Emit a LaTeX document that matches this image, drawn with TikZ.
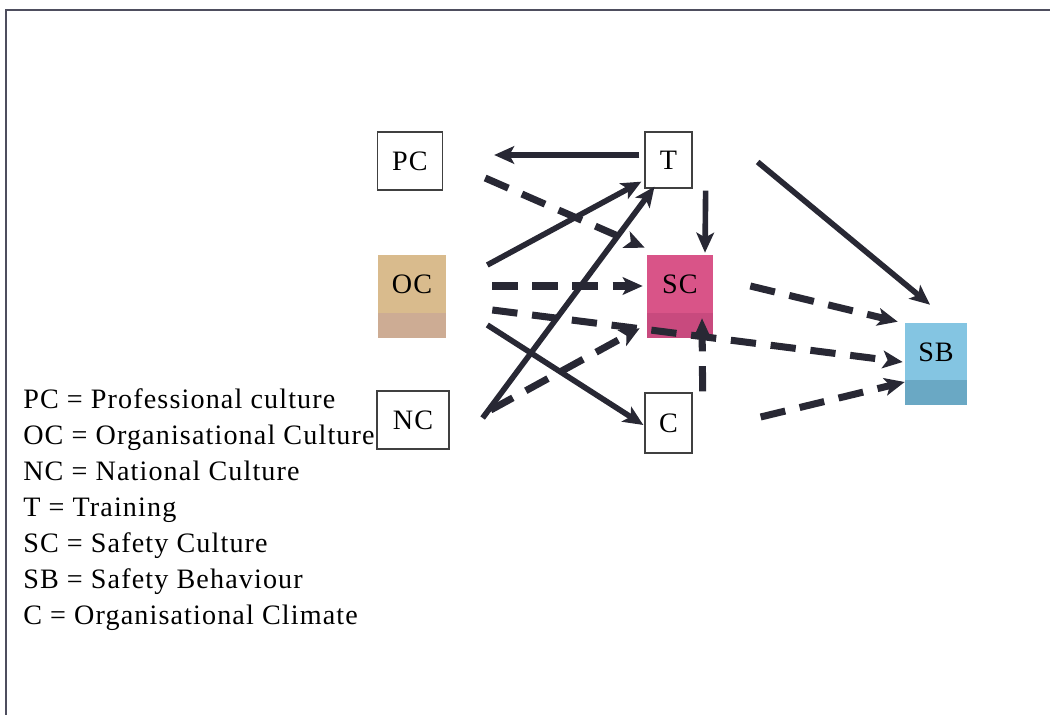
\documentclass[tikz,border=0pt]{standalone}
\usepackage{fontspec}
\setmainfont[LetterSpace=4]{Liberation Serif}
\usepackage{tikz}
\usetikzlibrary{arrows.meta}
\usepackage{xcolor}

\definecolor{arrowgrey}{RGB}{40,40,52}
\definecolor{framegrey}{RGB}{78,78,94}
\definecolor{octan}{RGB}{217,187,141}
\definecolor{octanlow}{RGB}{205,172,148}
\definecolor{scpink}{RGB}{217,84,136}
\definecolor{scpinklow}{RGB}{200,74,126}
\definecolor{sbblue}{RGB}{132,197,226}
\definecolor{sbbluelow}{RGB}{106,168,196}

\begin{document}
\begin{tikzpicture}[
    x=0.025cm,
    y=-0.025cm,
    line join=miter,
    font=\fontsize{20}{25.6}\selectfont,
    plainbox/.style={draw=black!75, line width=0.9pt, inner sep=0pt},
    cube/.style n args={2}{fill=#1, inner sep=0pt, text height=0.4cm, text depth=0.55cm,
      path picture={\fill[#2] (path picture bounding box.south west) rectangle ([yshift=0.62cm]path picture bounding box.south east);}},
    legendtext/.style={align=left, inner sep=0pt, anchor=north west},
    solidarr/.style={draw=arrowgrey, line width=4pt, -{Stealth[length=5mm,width=4.4mm,inset=1.2mm]}},
    dasharr/.style={solidarr, line width=5pt, dash pattern=on 18pt off 10.5pt},
  ]

  \useasboundingbox (0,0) rectangle (1050,715);

  % Frame (top and left edges only)
  \draw[framegrey, line width=2pt] (6,715) -- (6,10) -- (1050,10);

  % Key of abbreviations
  \node[legendtext] (key) at (23,388) {PC = Professional culture\\
    OC = Organisational Culture\\
    NC = National Culture\\
    T = Training\\
    SC = Safety Culture\\
    SB = Safety Behaviour\\
    C = Organisational Climate};

  % Factor boxes
  \node[plainbox, minimum width=1.625cm, minimum height=1.45cm] (PC) at (410,161) {PC};
  \node[plainbox, minimum width=1.175cm, minimum height=1.4cm] (T) at (668.5,160) {T};
  \node[cube={octan}{octanlow}, minimum width=1.7cm, minimum height=2.075cm] (OC) at (412,296.5) {OC};
  \node[cube={scpink}{scpinklow}, minimum width=1.65cm, minimum height=2.075cm] (SC) at (680,296.5) {SC};
  \node[plainbox, minimum width=1.8cm, minimum height=1.45cm] (NC) at (413,420) {NC};
  \node[plainbox, minimum width=1.175cm, minimum height=1.5cm] (C) at (668.5,423) {C};
  \node[cube={sbblue}{sbbluelow}, minimum width=1.55cm, minimum height=2.05cm] (SB) at (936,364) {SB};

  % Solid links
  \draw[solidarr] ([shift={(-5,-5)}]T.west) -- ([shift={(51,-6)}]PC.east);
  \draw[solidarr] ([shift={(41,-31.5)}]OC.east) -- ([shift={(-3,-7)}]T.south west);
  \draw[solidarr] ([shift={(33,-2)}]NC.east) -- ([shift={(-14,-2)}]T.south);
  \draw[solidarr] ([shift={(41,28.5)}]OC.east) -- ([shift={(-1,2)}]C.west);
  \draw[solidarr] ([shift={(13,2)}]T.south east) -- ([shift={(25,-2)}]SC.north);
  \draw[solidarr] ([shift={(65,2)}]T.east) -- ([shift={(-6,-18)}]SB.north);

  % Dashed links
  \draw[dasharr] ([shift={(42,17)}]PC.east) -- ([shift={(-2,-7)}]SC.north west);
  \draw[dasharr] ([shift={(46,-10.5)}]OC.east) -- ([shift={(-4,-10.5)}]SC.west);
  \draw[dasharr] ([shift={(46,13.5)}]OC.east) -- ([shift={(-2,-2)}]SB.west);
  \draw[dasharr] ([shift={(41,-10)}]NC.east) -- ([shift={(-7,-10)}]SC.south west);
  \draw[dasharr] ([shift={(10,-1)}]C.north east) -- ([shift={(22,-20)}]SC.south);
  \draw[dasharr] ([shift={(37,-10.5)}]SC.east) -- ([shift={(-7,-1)}]SB.north west);
  \draw[dasharr] ([shift={(68,-6)}]C.east) -- ([shift={(0,18)}]SB.west);
\end{tikzpicture}
\end{document}
